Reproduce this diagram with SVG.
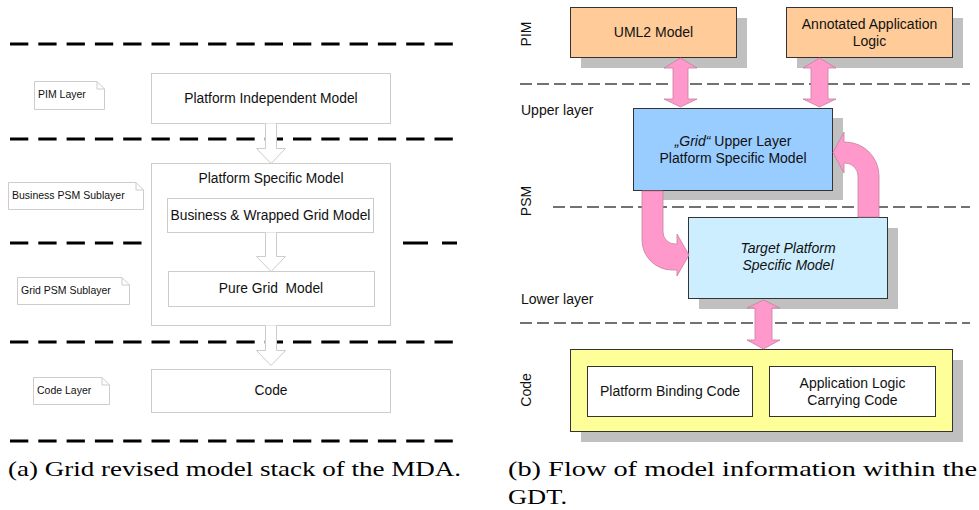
<svg xmlns="http://www.w3.org/2000/svg" width="979" height="510" viewBox="0 0 979 510">
<style>
.bg{fill:#ffffff}
.lbox{fill:#ffffff;stroke:#cccccc;stroke-width:1}
.note{fill:#ffffff;stroke:#cccccc;stroke-width:1}
.hollow{fill:#ffffff;stroke:#cccccc;stroke-width:1}
.ldash{stroke:#000000;stroke-width:3;stroke-dasharray:18.3 10}
.rdash{stroke:#444444;stroke-width:1.6;stroke-dasharray:12 5}
.t{font-family:"Liberation Sans",Arial,sans-serif;fill:#111111}
.lt{font-size:13.8px;text-anchor:middle}
.nt{font-size:10.5px}
.rt{font-size:14px;text-anchor:middle}
.rl{font-size:14px}
.it{font-style:italic}
.shadow{fill:#c0c0c0}
.orange{fill:#ffcc99;stroke:#333333;stroke-width:1}
.blue{fill:#99ccff;stroke:#333333;stroke-width:1}
.lblue{fill:#cceeff;stroke:#333333;stroke-width:1}
.yellow{fill:#ffff99;stroke:#333333;stroke-width:1}
.white{fill:#ffffff;stroke:#333333;stroke-width:1}
.pink{fill:#ff99cc;stroke:#c4809f;stroke-width:0.8}
.cap{font-family:"Liberation Serif","Times New Roman",serif;font-size:21px;fill:#000000}
</style>
<rect class="bg" x="0" y="0" width="979" height="510"/>

<!-- LEFT PANEL: layer separators -->
<g id="left-separators">
<line class="ldash" x1="10" y1="44" x2="457" y2="44"/>
<line class="ldash" x1="10" y1="139" x2="457" y2="139"/>
<line class="ldash" x1="10" y1="243" x2="142" y2="243"/>
<line x1="403" y1="243" x2="428" y2="243" stroke="#000" stroke-width="3"/>
<line x1="442" y1="243" x2="457" y2="243" stroke="#000" stroke-width="3"/>
<line class="ldash" x1="10" y1="342" x2="457" y2="342"/>
<line class="ldash" x1="10" y1="441" x2="457" y2="441"/>
</g>

<!-- notes -->
<g id="note-pim">
<path class="note" d="M34.5 81.5 H97 L104.5 89 V109.5 H34.5 Z M97 81.5 V89 H104.5"/>
<text class="t nt" x="38" y="98">PIM Layer</text>
</g>
<g id="note-business">
<path class="note" d="M8.5 182.5 H136 L143.5 190 V209.5 H8.5 Z M136 182.5 V190 H143.5"/>
<text class="t nt" x="12" y="199">Business PSM Sublayer</text>
</g>
<g id="note-grid">
<path class="note" d="M17.5 277.5 H122 L129.5 285 V304.5 H17.5 Z M122 277.5 V285 H129.5"/>
<text class="t nt" x="21" y="294">Grid PSM Sublayer</text>
</g>
<g id="note-code">
<path class="note" d="M33.5 377.5 H102 L109.5 385 V404.5 H33.5 Z M102 377.5 V385 H109.5"/>
<text class="t nt" x="37" y="394">Code Layer</text>
</g>

<!-- left boxes -->
<g id="pim">
<rect class="lbox" x="151.5" y="73.5" width="239" height="50"/>
<text class="t lt" x="271" y="103">Platform Independent Model</text>
</g>
<g id="psm">
<rect class="lbox" x="151.5" y="163.5" width="239" height="162"/>
<text class="t lt" x="271" y="183">Platform Specific Model</text>
</g>
<g id="business">
<rect class="lbox" x="167.5" y="198.5" width="206" height="34"/>
<text class="t lt" x="270.5" y="220">Business &amp; Wrapped Grid Model</text>
</g>
<g id="puregrid">
<rect class="lbox" x="168.5" y="271.5" width="206" height="35"/>
<text class="t lt" x="271" y="293" style="white-space:pre" xml:space="preserve">Pure Grid  Model</text>
</g>
<g id="code-left">
<rect class="lbox" x="151.5" y="369.5" width="239" height="43"/>
<text class="t lt" x="271" y="395">Code</text>
</g>

<!-- left hollow arrows -->
<g id="left-connectors">
<path class="hollow" d="M265.5 123.5 V148.5 H256.5 L271 163.5 L285.5 148.5 H276.5 V123.5"/>
<path class="hollow" d="M265.5 232.5 V256.5 H256.5 L271 271.5 L285.5 256.5 H276.5 V232.5"/>
<path class="hollow" d="M265.5 325.5 V350.5 H256.5 L271 365.5 L285.5 350.5 H276.5 V325.5"/>
</g>

<!-- RIGHT PANEL -->
<g id="right-separators">
<line class="rdash" x1="520" y1="84" x2="970" y2="84"/>
<line class="rdash" x1="553" y1="207" x2="970" y2="207"/>
<line class="rdash" x1="520" y1="323" x2="970" y2="323"/>
</g>

<g id="layer-labels">
<text class="t rl" x="531" y="34" text-anchor="middle" transform="rotate(-90 531 34)">PIM</text>
<text class="t rl" x="521" y="115">Upper layer</text>
<text class="t rl" x="531" y="201" text-anchor="middle" transform="rotate(-90 531 201)">PSM</text>
<text class="t rl" x="521" y="304">Lower layer</text>
<text class="t rl" x="531" y="390" text-anchor="middle" transform="rotate(-90 531 390)">Code</text>
</g>

<g id="uml2">
<rect class="shadow" x="581" y="18" width="166" height="50"/>
<rect class="orange" x="570.5" y="7.5" width="166" height="50"/>
<text class="t rt" x="653.5" y="37">UML2 Model</text>
</g>
<g id="annotated">
<rect class="shadow" x="797" y="18" width="166" height="50"/>
<rect class="orange" x="786.5" y="7.5" width="166" height="50"/>
<text class="t rt" x="869.5" y="29">Annotated Application</text>
<text class="t rt" x="869.5" y="46">Logic</text>
</g>
<g id="grid-upper">
<rect class="shadow" x="644" y="118" width="199" height="82"/>
<rect class="blue" x="633.5" y="108.5" width="199" height="82"/>
<text class="t rt" x="733" y="146"><tspan class="it">„Grid“</tspan> Upper Layer</text>
<text class="t rt" x="733" y="163">Platform Specific Model</text>
</g>
<g id="target">
<rect class="shadow" x="699" y="228" width="199" height="81"/>
<rect class="lblue" x="688.5" y="217.5" width="199" height="81"/>
<text class="t rt it" x="788" y="253">Target Platform</text>
<text class="t rt it" x="788" y="270">Specific Model</text>
</g>
<g id="code-right">
<rect class="shadow" x="581" y="360" width="382" height="82"/>
<rect class="yellow" x="570.5" y="349.5" width="382" height="82"/>
</g>
<g id="binding">
<rect class="white" x="587.5" y="366.5" width="165" height="50"/>
<text class="t rt" x="670" y="396">Platform Binding Code</text>
</g>
<g id="applogic">
<rect class="white" x="769.5" y="366.5" width="166" height="50"/>
<text class="t rt" x="852.5" y="388">Application Logic</text>
<text class="t rt" x="852.5" y="405">Carrying Code</text>
</g>

<g id="right-connectors">
<polygon class="pink" points="680.5,58 697,68 688,68 688,99 697,99 680.5,107 664,99 673,99 673,68 664,68"/>
<polygon class="pink" points="819.5,58 836,68 828,68 828,99 836,99 819.5,107 803,99 811,99 811,68 803,68"/>
<polygon class="pink" points="763.5,300 780,308 772,308 772,340 780,340 763.5,349 747,340 755,340 755,308 747,308"/>
<path class="pink" d="M642 191 L663 191 L663 232 A12 12 0 0 0 675 244 L677 244 L677 234 L689 255 L677 276 L677 270 L672 270 A30 30 0 0 1 642 240 Z"/>
<path class="pink" d="M858 217 L858 176 A13 13 0 0 0 845 163 L844 163 L844 173 L833 152.5 L844 132 L844 142 L845 142 A34 34 0 0 1 879 176 L879 217 Z"/>
</g>

<!-- captions -->
<g id="captions">
<text class="cap" x="8" y="476" textLength="453" lengthAdjust="spacingAndGlyphs">(a) Grid revised model stack of the MDA.</text>
<text class="cap" x="508" y="476" textLength="469" lengthAdjust="spacingAndGlyphs">(b) Flow of model information within the</text>
<text class="cap" x="508" y="504" textLength="59" lengthAdjust="spacingAndGlyphs">GDT.</text>
</g>
</svg>
